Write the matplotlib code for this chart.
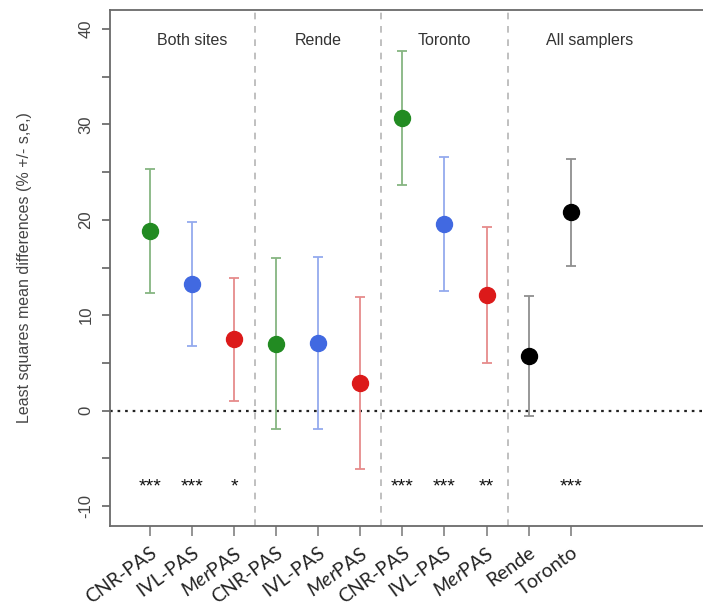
import matplotlib
matplotlib.use("Agg")
import matplotlib.pyplot as plt
from matplotlib.ticker import MultipleLocator

# data
tick_labels = ["CNR-PAS", "IVL-PAS", r"$\mathit{Mer}$PAS",
               "CNR-PAS", "IVL-PAS", r"$\mathit{Mer}$PAS",
               "CNR-PAS", "IVL-PAS", r"$\mathit{Mer}$PAS",
               "Rende", "Toronto"]
means = [18.8, 13.3, 7.5, 7.0, 7.1, 2.9, 30.7, 19.6, 12.1, 5.7, 20.8]
lower = [12.3, 6.8, 1.0, -1.9, -1.9, -6.1, 23.6, 12.5, 5.0, -0.6, 15.2]
upper = [25.3, 19.8, 13.9, 16.0, 16.1, 11.9, 37.7, 26.6, 19.2, 12.0, 26.4]
stars = ["***", "***", "*", "", "", "", "***", "***", "**", "", "***"]
groups = ["Both sites", "Rende", "Toronto", "All samplers"]
group_centers = [2, 5, 8, 11.45]
dividers = [3.5, 6.5, 9.5]

point_colors = ["#228b22", "#4169e1", "#dc1a1a"] * 3 + ["#000000", "#000000"]
bar_colors = ["#86b581", "#94aaee", "#e68b8b"] * 3 + ["#8f8f8f", "#8f8f8f"]

plt.rcParams["font.family"] = ["Liberation Sans", "DejaVu Sans"]
plt.rcParams["axes.unicode_minus"] = False
plt.rcParams["mathtext.fontset"] = "custom"
plt.rcParams["mathtext.rm"] = "Lato"
plt.rcParams["mathtext.it"] = "Lato:italic"

fig = plt.figure(figsize=(7.03, 6.05), dpi=100)
# the reference is cropped on the right, so the axes run past the figure edge
ax = fig.add_axes([110 / 703, 1 - 526 / 605, 610 / 703, 516 / 605])

xs = list(range(1, len(means) + 1))
for x, m, lo, hi, pc, bc in zip(xs, means, lower, upper, point_colors, bar_colors):
    ax.errorbar(x, m, yerr=[[m - lo], [hi - m]], fmt="none", ecolor=bc,
                elinewidth=1.3, capsize=3.5, capthick=1.3, zorder=2)
    ax.plot(x, m, "o", color=pc, markersize=11.5, markeredgecolor=pc,
            markeredgewidth=1, zorder=3)

ax.axhline(0, color="#222222", linestyle=(0, (1.2, 2.2)), linewidth=1.6, zorder=1)
for d in dividers:
    ax.axvline(d, color="#b5b5b5", linestyle=(0, (4, 4)), linewidth=1.2, zorder=1)

for x, s in zip(xs, stars):
    if s:
        ax.text(x, -8.0, s, ha="center", va="center", fontsize=14,
                color="#111111")

for gx, g in zip(group_centers, groups):
    ax.text(gx, 38.8, g, ha="center", va="center", fontsize=11.5, color="#333333")

ax.set_xlim(0.05, 14.55)
ax.set_ylim(-12.1, 42.0)
ax.yaxis.set_major_locator(MultipleLocator(10))
ax.yaxis.set_minor_locator(MultipleLocator(5))
ax.set_xticks(xs)
ax.set_xticklabels(tick_labels, rotation=36, ha="right", rotation_mode="anchor",
                   fontsize=14, family=["Lato", "DejaVu Sans"], color="#222222")
for lab in ax.get_yticklabels():
    lab.set_rotation(90)
    lab.set_va("center")
ax.tick_params(axis="y", which="both", length=6, width=1.1, color="#555555",
               labelsize=12, labelcolor="#444444", pad=6)
ax.tick_params(axis="x", length=7, width=1.1, color="#777777", pad=6)

for side in ["left", "bottom", "top"]:
    ax.spines[side].set_color("#6a6a6a")
    ax.spines[side].set_linewidth(1.3)
ax.spines["right"].set_visible(False)

ax.set_ylabel("Least squares mean differences (% +/- s,e,)", fontsize=11.5,
              color="#444444", labelpad=33)

fig.savefig("out.png", dpi=100)
